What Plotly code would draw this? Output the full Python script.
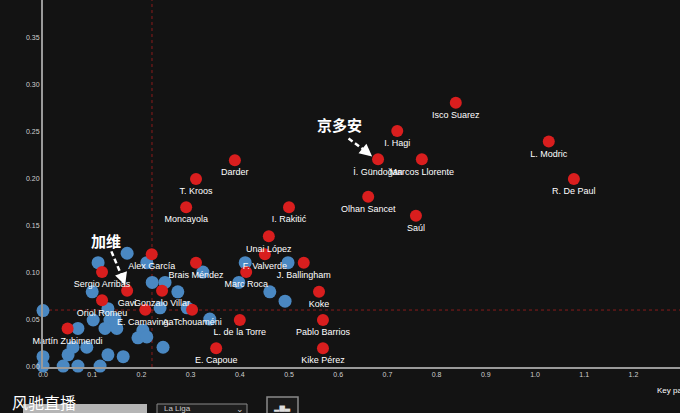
import plotly.graph_objects as go

# ---- data ----
red_names = ["Isco Suarez", "I. Hagi", "İ. Gündoğan", "Marcos Llorente", "L. Modric", "R. De Paul",
             "Olhan Sancet", "Saúl", "Darder", "T. Kroos", "Moncayola", "I. Rakitić", "Unai López",
             "F. Valverde", "J. Ballingham", "Alex García", "Brais Méndez", "Marc Roca", "Koke",
             "Sergio Arribas", "Gavi", "Gonzalo Villar", "Oriol Romeu", "E. Camavinga", "A. Tchouaméni",
             "L. de la Torre", "Pablo Barrios", "Martín Zubimendi", "E. Capoue", "Kike Pérez"]
red_x = [0.839, 0.720, 0.681, 0.770, 1.028, 1.079, 0.661, 0.758, 0.390, 0.311, 0.291, 0.500, 0.459,
         0.451, 0.530, 0.221, 0.311, 0.413, 0.561, 0.120, 0.171, 0.242, 0.120, 0.208, 0.303,
         0.400, 0.569, 0.050, 0.352, 0.569]
red_y = [0.281, 0.251, 0.221, 0.221, 0.240, 0.200, 0.181, 0.161, 0.220, 0.200, 0.170, 0.170, 0.139,
         0.120, 0.111, 0.120, 0.111, 0.101, 0.080, 0.101, 0.081, 0.081, 0.071, 0.061, 0.061,
         0.050, 0.050, 0.041, 0.020, 0.020]

blue_x = [0.000, 0.112, 0.171, 0.211, 0.325, 0.411, 0.498, 0.398, 0.100, 0.222, 0.248, 0.274,
          0.461, 0.492, 0.132, 0.238, 0.293, 0.339, 0.102, 0.136, 0.071, 0.126, 0.150, 0.203,
          0.193, 0.211, 0.061, 0.089, 0.244, 0.000, 0.051, 0.132, 0.163, 0.000, 0.041, 0.071,
          0.116, 0.146]
blue_y = [0.060, 0.111, 0.121, 0.111, 0.101, 0.111, 0.111, 0.090, 0.080, 0.090, 0.090, 0.080,
          0.080, 0.070, 0.062, 0.063, 0.063, 0.051, 0.050, 0.050, 0.041, 0.041, 0.041, 0.039,
          0.031, 0.032, 0.021, 0.021, 0.021, 0.011, 0.013, 0.013, 0.011, 0.001, 0.001, 0.001,
          0.001, 0.051]

x_ticks = [round(i * 0.1, 1) for i in range(14)]
y_ticks = [round(i * 0.05, 2) for i in range(8)]
avg_x = 0.2215
avg_y = 0.0606

BG = "#131313"

fig = go.Figure()
fig.add_trace(go.Scatter(
    x=blue_x, y=blue_y, mode="markers",
    marker=dict(size=13, color="#4a88c2", line=dict(width=0)),
    hoverinfo="skip", cliponaxis=False))
fig.add_trace(go.Scatter(
    x=red_x, y=red_y, mode="markers+text", text=red_names, textposition="bottom center",
    textfont=dict(family="Liberation Sans", size=9, color="white"),
    marker=dict(size=12, color="#d91e1e", line=dict(width=0)),
    hoverinfo="skip", cliponaxis=False))

shapes = [
    dict(type="line", xref="x", yref="paper", x0=avg_x, x1=avg_x, y0=0, y1=1,
         line=dict(color="#8a1c1c", width=1, dash="dot"), layer="below"),
    dict(type="line", xref="paper", yref="y", x0=0, x1=1, y0=avg_y, y1=avg_y,
         line=dict(color="#8a1c1c", width=1, dash="dot"), layer="below"),
    # dashed arrow shafts
    dict(type="line", xref="x", yref="y", x0=0.621, y0=0.243, x1=0.660, y1=0.228,
         line=dict(color="white", width=2.5, dash="5px,3px")),
    dict(type="line", xref="x", yref="y", x0=0.139, y0=0.123, x1=0.163, y1=0.093,
         line=dict(color="white", width=2.5, dash="5px,3px")),
    # bottom UI widgets
    dict(type="rect", xref="paper", yref="paper", x0=(23 - 43) / 637, x1=(147 - 43) / 637,
         y0=(367 - 404) / 367, y1=(367 - 420) / 367, fillcolor="#b5b5b5", line=dict(width=0)),
    dict(type="rect", xref="paper", yref="paper", x0=(157 - 43) / 637, x1=(247 - 43) / 637,
         y0=(367 - 404) / 367, y1=(367 - 420) / 367, fillcolor="#1e1e1e",
         line=dict(color="#8a8a8a", width=1)),
    dict(type="rect", xref="paper", yref="paper", x0=(267 - 43) / 637, x1=(298 - 43) / 637,
         y0=(367 - 397) / 367, y1=(367 - 420) / 367, fillcolor="#1a1a1a",
         line=dict(color="#8a8a8a", width=1.5)),
]

annotations = [
    dict(x=0.669, y=0.224, ax=0.655, ay=0.230, xref="x", yref="y", axref="x", ayref="y",
         text="", showarrow=True, arrowhead=2, arrowsize=1, arrowwidth=2.5, arrowcolor="white"),
    dict(x=0.167, y=0.087, ax=0.161, ay=0.096, xref="x", yref="y", axref="x", ayref="y",
         text="", showarrow=True, arrowhead=2, arrowsize=1, arrowwidth=2.5, arrowcolor="white"),
    dict(x=0.603, y=0.258, xref="x", yref="y", text="<b>京多安</b>", showarrow=False,
         font=dict(family="Noto Sans CJK SC", size=15, color="white")),
    dict(x=0.128, y=0.135, xref="x", yref="y", text="<b>加维</b>", showarrow=False,
         font=dict(family="Noto Sans CJK SC", size=15, color="white")),
    dict(x=(655 - 43) / 637, y=(367 - 390) / 367, xref="paper", yref="paper", xanchor="left",
         yanchor="middle", text="Key passes per 90", showarrow=False,
         font=dict(family="Liberation Sans", size=8, color="white")),
    dict(x=(10 - 43) / 637, y=(367 - 402) / 367, xref="paper", yref="paper", xanchor="left",
         yanchor="middle", text="风驰直播", showarrow=False,
         font=dict(family="Noto Sans CJK SC", size=16, color="white")),
    dict(x=(162 - 43) / 637, y=(367 - 409) / 367, xref="paper", yref="paper", xanchor="left",
         yanchor="middle", text="La Liga", showarrow=False,
         font=dict(family="Liberation Sans", size=8, color="#cccccc")),
    dict(x=(240 - 43) / 637, y=(367 - 409) / 367, xref="paper", yref="paper", xanchor="center",
         yanchor="middle", text="⌄", showarrow=False,
         font=dict(family="DejaVu Sans", size=9, color="#cccccc")),
    dict(x=(282 - 43) / 637, y=(367 - 408) / 367, xref="paper", yref="paper", xanchor="center",
         yanchor="middle", text="▂▆▃", showarrow=False,
         font=dict(family="DejaVu Sans", size=7, color="#dddddd")),
]

fig.update_layout(
    width=680, height=413,
    margin=dict(l=43, r=0, t=0, b=46, autoexpand=False),
    paper_bgcolor=BG, plot_bgcolor=BG,
    showlegend=False,
    shapes=shapes, annotations=annotations,
    xaxis=dict(range=[0, 637 / 492], tickvals=x_ticks, ticktext=[f"{v:.1f}" for v in x_ticks],
               showgrid=False, zeroline=False, showline=True, linecolor="#9a9a9a", linewidth=2,
               ticks="", tickfont=dict(family="Liberation Sans", size=7, color="#d0d0d0")),
    yaxis=dict(range=[0, 367 / 940], tickvals=y_ticks, ticktext=[f"{v:.2f}" for v in y_ticks],
               showgrid=False, zeroline=False, showline=True, linecolor="#9a9a9a", linewidth=2,
               ticks="", tickfont=dict(family="Liberation Sans", size=7, color="#d0d0d0")),
)

fig.write_html("out.html",
               config={"displayModeBar": False},
               post_script="document.body.style.margin='0px';"
                           "document.body.style.background='#131313';"
                           "document.body.style.overflow='hidden';")
